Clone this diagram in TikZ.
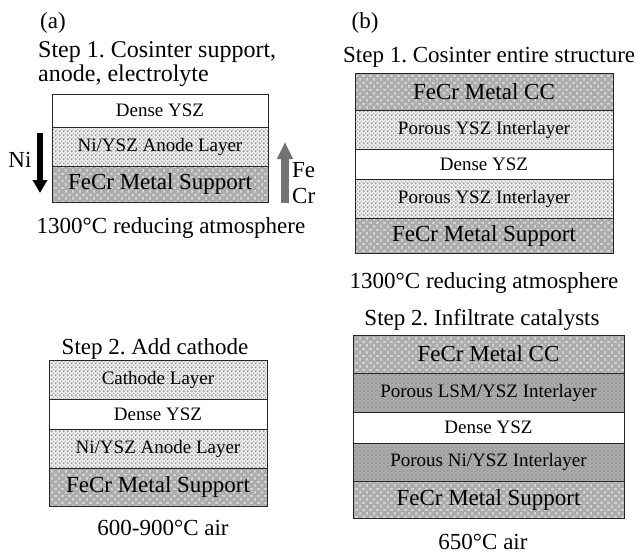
\documentclass[tikz,border=0pt]{standalone}
\usepackage{fontspec}
\setmainfont{Liberation Serif}
\frenchspacing
\usetikzlibrary{patterns,patterns.meta,arrows.meta}
\tikzdeclarepattern{
  name=smalldots,
  type=uncolored,
  bottom left={(0pt,0pt)},
  top right={(4pt,4pt)},
  tile size={(4pt,4pt)},
  code={
    \fill (0pt,0pt) circle[radius=1.1pt];
    \fill (4pt,0pt) circle[radius=1.1pt];
    \fill (0pt,4pt) circle[radius=1.1pt];
    \fill (4pt,4pt) circle[radius=1.1pt];
    \fill (2pt,2pt) circle[radius=1.1pt];
  }
}
\tikzdeclarepattern{
  name=bigcircles,
  type=uncolored,
  bottom left={(0pt,0pt)},
  top right={(7pt,7pt)},
  tile size={(7pt,7pt)},
  code={
    \fill (0pt,0pt) circle[radius=2.7pt];
    \fill (7pt,0pt) circle[radius=2.7pt];
    \fill (0pt,7pt) circle[radius=2.7pt];
    \fill (7pt,7pt) circle[radius=2.7pt];
    \fill (3.5pt,3.5pt) circle[radius=2.7pt];
  }
}
\tikzset{
  layer/.style={draw=black!85, line width=1pt, inner sep=0pt, outer sep=0pt,
    font=\fontsize{19}{21}\selectfont, anchor=center},
  dense/.style={layer, fill=white},
  porous/.style={layer, preaction={fill=white}, pattern=smalldots, pattern color=gray!75},
  metal/.style={layer, preaction={fill=gray!25}, pattern=bigcircles, pattern color=gray!65,
    font=\fontsize{23}{25}\selectfont},
  darkporous/.style={layer, preaction={fill=gray!60}, pattern=smalldots, pattern color=gray!85},
  caption/.style={font=\fontsize{23}{26}\selectfont, inner sep=0pt},
  bigcaption/.style={font=\fontsize{24}{27}\selectfont, inner sep=0pt},
  smallcap/.style={font=\fontsize{23}{26}\selectfont, inner sep=0pt},
}
\begin{document}
\begin{tikzpicture}[x=1pt,y=-1pt]
\useasboundingbox[fill=white] (0,0) rectangle (641,555);

% ---------- panel (a) step 1 ----------
\node[caption, anchor=base] (alabel) at (53,28) {(a)};
\node[bigcaption, anchor=base west] (astep1a) at (38,57) {Step 1. Cosinter support,};
\node[bigcaption, anchor=base west] (astep1b) at (38,81) {anode, electrolyte};

\node[dense, minimum width=216pt, minimum height=33pt] (a1d) at (160,110.5) {Dense YSZ};
\node[porous, minimum width=216pt, minimum height=39pt] (a1a) at (160,146.5) {Ni/YSZ Anode Layer};
\node[metal, minimum width=216pt, minimum height=36pt] (a1s) at (160,184) {FeCr Metal Support};

\coordinate (niTop) at (40,133);
\coordinate (niBot) at (40,193);
\draw[line width=6pt, black, -{Triangle[width=14pt,length=13pt]}] (niTop) -- (niBot);
\node[smallcap, anchor=base] (ni) at (20,167) {Ni};

\coordinate (feBot) at (285,203);
\coordinate (feTop) at (285,142);
\draw[line width=8pt, black!55, -{Triangle[width=15pt,length=17pt]}] (feBot) -- (feTop);
\node[smallcap, anchor=base west] (fe) at (292,177) {Fe};
\node[smallcap, anchor=base west] (cr) at (292,203) {Cr};

\node[caption, anchor=base] (atemp1) at (171,233) {1300°C reducing atmosphere};

% ---------- panel (a) step 2 ----------
\node[caption, anchor=base] (astep2) at (155,354) {Step 2. Add cathode};
\node[porous, minimum width=218pt, minimum height=39pt] (a2c) at (158,379.5) {Cathode Layer};
\node[dense, minimum width=218pt, minimum height=30pt] (a2d) at (158,414) {Dense YSZ};
\node[porous, minimum width=218pt, minimum height=39pt] (a2a) at (158,448.5) {Ni/YSZ Anode Layer};
\node[metal, minimum width=218pt, minimum height=38pt] (a2s) at (158,487) {FeCr Metal Support};
\node[caption, anchor=base] (atemp2) at (163,535) {600-900°C air};

% ---------- panel (b) step 1 ----------
\node[caption, anchor=base] (blabel) at (365,28) {(b)};
\node[caption, anchor=base west] (bstep1) at (343,62) {Step 1. Cosinter entire structure};

\node[metal, minimum width=258pt, minimum height=37pt] (b1cc) at (484,91.5) {FeCr Metal CC};
\node[porous, minimum width=258pt, minimum height=39pt] (b1p1) at (484,129.5) {Porous YSZ Interlayer};
\node[dense, minimum width=258pt, minimum height=30pt] (b1d) at (484,164) {Dense YSZ};
\node[porous, minimum width=258pt, minimum height=39pt] (b1p2) at (484,198.5) {Porous YSZ Interlayer};
\node[metal, minimum width=258pt, minimum height=35pt] (b1s) at (484,235.5) {FeCr Metal Support};
\node[caption, anchor=base] (btemp1) at (484,288) {1300°C reducing atmosphere};

% ---------- panel (b) step 2 ----------
\node[caption, anchor=base] (bstep2) at (482,325) {Step 2. Infiltrate catalysts};
\node[metal, minimum width=271pt, minimum height=38pt] (b2cc) at (488.5,354) {FeCr Metal CC};
\node[darkporous, minimum width=271pt, minimum height=39pt] (b2l) at (488.5,392.5) {Porous LSM/YSZ Interlayer};
\node[dense, minimum width=271pt, minimum height=31pt] (b2d) at (488.5,427.5) {Dense YSZ};
\node[darkporous, minimum width=271pt, minimum height=38pt] (b2n) at (488.5,462) {Porous Ni/YSZ Interlayer};
\node[metal, minimum width=271pt, minimum height=37pt] (b2s) at (488.5,499.5) {FeCr Metal Support};
\node[caption, anchor=base] (btemp2) at (483,549) {650°C air};
\end{tikzpicture}
\end{document}
